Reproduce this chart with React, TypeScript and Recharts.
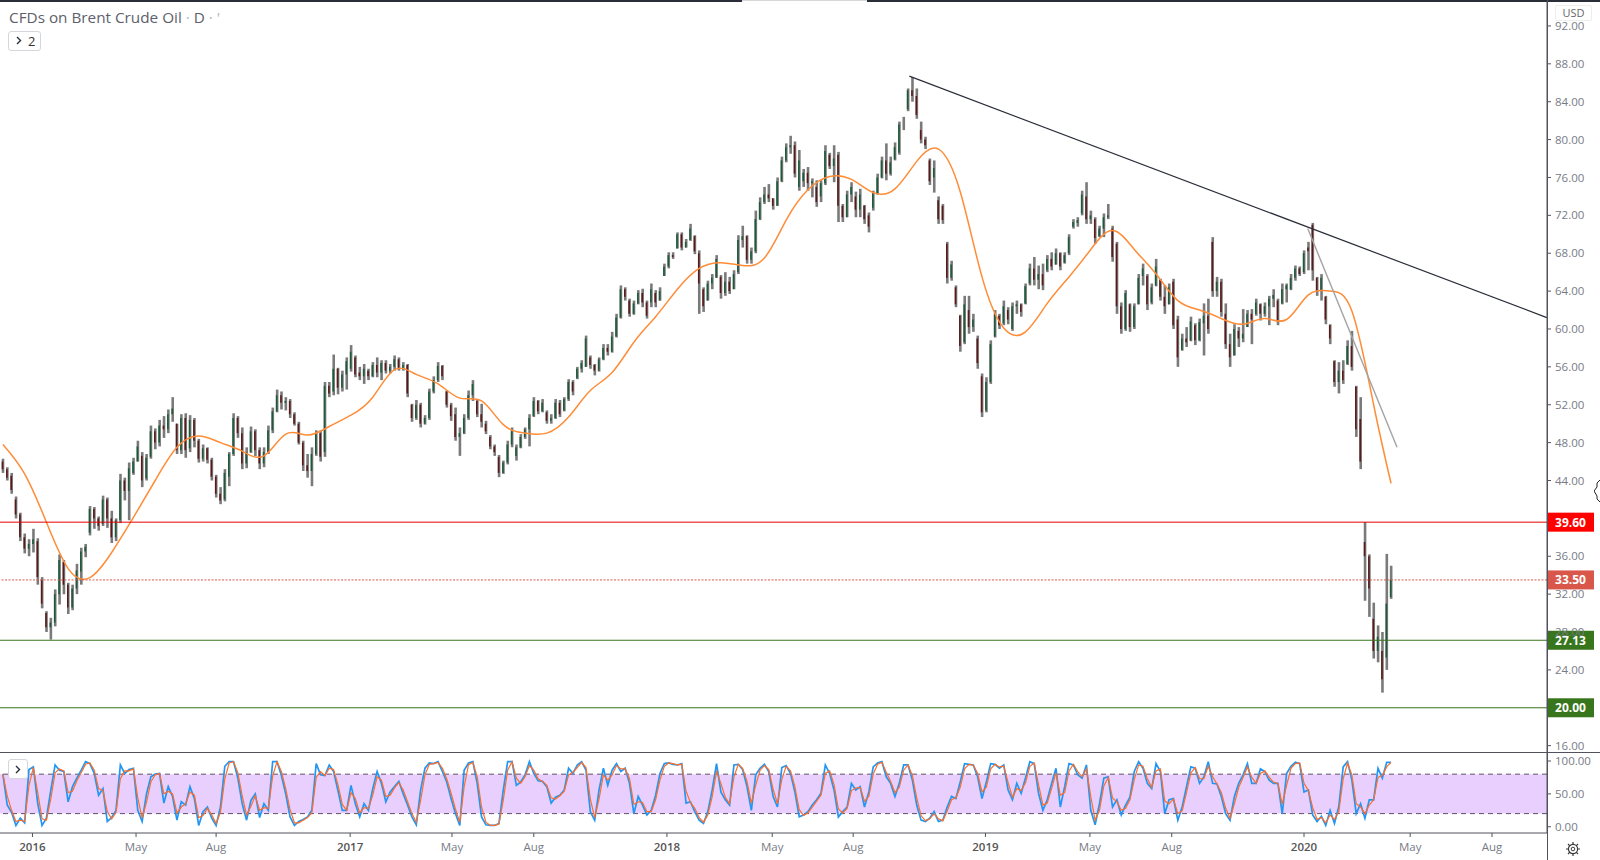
import { Bar, Cell, ComposedChart, Line, ReferenceArea, ReferenceLine, XAxis, YAxis } from "recharts";

// one row per bar, ten bars to a line
const opens = [
  46,45.2,44.5,42,40.4,38,36.8,37.3,37.6,33.5,
  30,28.5,29,32,35.4,33,30.6,32.6,34.4,36.5,
  38.5,41,40,39.4,42,40,38,39.8,44,42.9,
  44.8,46,46.6,44.2,46.5,49.2,48,49.8,49.4,51,
  50,47.2,50.6,47.4,50.4,48.2,46.3,47.4,46.2,44.4,
  42.6,42,44.4,46.8,50.6,49,45.8,47,49.2,47.2,
  45.8,47,49.3,51.3,53,52.2,52.4,51,50,48,
  45.6,45,46.8,49,47,54,53.4,55.8,53.8,55.2,
  55.8,57,55.4,55,55.6,55,56.2,55.4,56.4,55.6,
  56,56.8,55.9,56.2,52,50.6,52,50,50.6,53.4,
  54.6,56.1,53.4,52,51,48.6,49,50.6,53,52.4,
  51,50,48.6,47.6,46.5,44.8,45.9,47.8,46.6,47.5,
  48.6,49.4,50.8,52.4,51.3,51.2,50.3,50.6,52.2,51.4,
  52.6,54.4,54.8,55.8,56,57,56.2,55.6,56.8,58,
  57.6,59.2,61.2,64.2,63,61.6,62.7,63.8,62.8,62.8,
  63.8,63,65.6,66.6,67.8,68.5,70,68.6,69.4,69.8,
  68,64.2,63,64.8,65.4,65.5,63.8,65,64.2,66,
  69.4,69.8,67.3,68.2,71.6,73.4,74.2,73.8,73,75.6,
  77.8,79.2,79.4,75,75.6,76.5,75.4,75,74,75.4,
  78.4,77.2,78.4,73,71.8,74.2,74,72.6,73,72,
  72.8,74.3,76,77.8,76.4,77.9,78.6,81.6,83.2,85.2,
  84.6,81,80,77.8,76,73.6,73,69,65.4,64.4,
  61.4,58.6,62,60.2,59,55,51.4,54.4,59.2,61.4,
  60.6,62,60,62.4,62.6,62.7,64.8,66.4,65.2,65.8,
  66.2,67.4,66.8,68,67,68,70.8,71.2,72.2,74,
  71.6,71.6,69.8,70.6,71.8,70.6,69,62.4,60,62.6,
  60.2,62.6,65.6,65.6,62.8,64.6,65.2,63.4,62.6,65,
  61,57.8,59,58.8,60.4,58.8,60.6,61.4,69.2,64,
  65,61.6,58.4,57.2,59.8,59,60.2,61.6,61.6,62.6,
  61.6,62.4,63.2,63,62.7,64.2,64.2,65.4,66.4,66,
  68.6,71,65.4,64,63.4,60.4,56.6,54.4,55.6,56.3,
  58.2,53.9,50.5,37.5,36,29.4,26,26,25.3,31.7,
];
const highs = [
  46.3,45.4,44.8,42.3,40.6,38.4,37.8,38.9,37.9,33.8,
  30.2,29.5,32.5,36.2,35.6,33.2,33,35.2,36.9,37.3,
  41.3,41.2,40.2,42.4,42.2,40.8,40,44.7,44.3,45.9,
  46.4,48.2,47,46.8,49.8,49.5,50.4,50.8,51.5,52.8,
  50,51,51.1,50.9,50.6,48.4,47.8,47.5,46.4,44.6,
  43.3,45.2,47,51.1,50.8,49.6,47.5,49.7,49.4,47.5,
  47.5,49.8,51.7,53.6,53.4,52.8,52.6,51.2,50.2,48.2,
  46.8,47.5,49.3,49.3,54.4,54.4,57.3,55.9,55.6,57,
  58.3,57.2,56,56.3,55.8,56.5,57,56.7,56.7,56.3,
  57.2,57,56.5,56.3,52.1,52.5,52.2,50.9,53.7,55,
  56.5,56.2,53.5,52.2,51.7,49.6,51,53.5,54.6,52.5,
  52.1,50.3,48.8,47.8,46.7,46.1,48.2,49.6,47.8,48.9,
  49.6,51,52.8,52.5,52.6,51.4,51,52.6,52.5,52.8,
  54.7,54.6,56,56.7,59.3,57.2,56.3,57,58.4,58.4,
  59.7,61.6,64.6,64.4,63.2,63,64.1,64.25,63,64.8,
  64.1,64.4,66.9,68.1,68.1,70.2,70.2,69.5,71.1,69.9,
  68.3,64.4,65.1,65.8,67.8,65.7,66,65.5,66.2,69.9,
  70.9,69.9,68.6,72.5,73.9,75,75.3,73.8,76,78.2,
  79.6,80.4,79.8,78.9,76.9,77.1,75.9,75.7,75.7,79.4,
  78.6,79.4,78.7,73.2,74.6,75.5,74.5,74.8,73.1,72.3,
  74.6,76.4,78.2,79.6,78.2,79.7,81.9,82.4,85.4,86.6,
  85.4,81.9,80.3,78,77.8,74,73.2,69.2,67.2,64.6,
  61.5,63.5,63.5,61.6,59.3,55.3,54.9,58.8,62,61.6,
  63,62.3,62.8,63,62.7,64.8,66.9,67.6,66.7,66.9,
  67.8,68.1,68.5,68.1,68.1,70,71.6,71.8,74.6,75.5,
  72.5,71.8,70.9,72.2,73.2,70.9,69.2,62.8,64.1,62.7,
  62.7,65.8,66.9,65.8,64.8,67.4,65.3,64.6,64.8,65.3,
  61.4,59.5,60.2,61.3,60.6,61.1,62.7,63.2,69.7,65.5,
  65.3,62.7,59.5,60.5,60.2,62.1,62,62.1,63.2,62.7,
  62.8,63.5,64.2,63.2,64.8,64.8,65.8,66.7,66.6,68.3,
  69.2,71.2,65.5,65.8,63.5,60.5,56.7,56.5,56.7,58.8,
  59.8,54,52.8,39.6,36.2,31.1,28.7,28,36.25,35,
];
const lows = [
  44.8,44,42.6,40,37.6,36.3,36,36.4,33,30.5,
  28,27.2,28.6,30.9,32,29.9,30.3,32,33,35.9,
  38.2,38.9,38.7,39.2,39,37.4,37.6,39.5,41.9,39.8,
  44.6,46,43.3,44,46.3,47.3,47.6,48.5,49,50.2,
  46.8,46.8,46.4,47,47.5,45.9,46,45.8,44,42.2,
  41.5,41.8,43.4,46.6,48.5,45.2,45.3,46.9,46.6,45.2,
  45.4,46.8,49,51.2,51.5,51.4,50.6,49.8,47.8,45,
  44.3,43.4,46.6,46,46.5,52.8,53,53.1,53.4,53.6,
  55.5,54.9,54.6,54.2,54.6,54.9,54.9,54.6,55.3,55.3,
  55.6,55.6,55.6,52.8,50.2,50.4,49.6,49.9,50.4,53.2,
  54.4,54.6,51.7,50.3,48.2,46.6,48.9,50.4,52.4,50.7,
  49.6,48.9,47.3,46.6,44.35,44.7,45.7,47.5,46.1,47.4,
  48.4,47.6,50.7,51,51.2,50,50,50.5,50.7,51.3,
  52.4,53,54.7,55.4,56,55.8,55.1,55.5,56.7,57.2,
  57.5,59.1,61.1,63,61.3,61.5,62.6,62.3,61.1,62.3,
  62.3,63,65.6,66.4,67.4,68.5,68.3,68.6,69.3,67.9,
  61.6,61.8,63,64.2,65.4,63.2,63.5,63.7,64.2,65.8,
  68.6,66.9,66.9,68,71.5,73.2,73.4,72.6,73,75.5,
  77.6,78.5,76,74.6,75,74.6,73.9,72.9,73.4,75.2,
  76.9,75.5,71.3,71.3,71.8,73.4,71.8,71.8,71.1,70.2,
  72.5,74.2,75.9,75.7,76.2,77.8,78.4,81,83,84,
  82.2,79.6,79,75.2,74.4,71.1,71.1,64.8,65.1,62.3,
  57.6,58.4,59.5,59.7,55.8,50.7,51.2,54.2,59.1,60,
  60.4,60.5,59.8,61.6,61.3,62.6,64.6,64.6,64.2,64.1,
  66,66.2,66.8,66.2,66.9,67.8,70.6,70.8,72,71.1,
  71.1,69,69.7,69.7,71.6,67.1,61.6,59.5,59.8,59.7,
  60,62.6,64.6,62,62.6,64.5,63,61.6,62.6,60,
  56,57.7,58.1,58.7,58.3,58.7,57.2,59.5,63.4,63.4,
  61.3,57.9,56,57.2,58.1,58.6,60.2,58.4,61.4,60.9,
  61.3,60.4,62.3,60.4,62.6,62.8,64.1,65.1,65.6,65.8,
  66.2,65.1,63.5,63,60.5,58.4,53.9,53.2,54.2,56.2,
  55.6,48.6,45.2,31.3,29.6,25.2,24.8,21.6,24,31.5,
];
const closes = [
  45.2,44.3,43,40.4,38,36.8,37.3,37.8,33.8,31,
  28.5,29,32,35.6,33,30.6,32.6,34.5,36.5,37,
  41,40,39.2,42,40,38,39.8,44,42.9,45.3,
  46,47.6,44,46.4,49.2,48,49.8,49.4,51,51.6,
  47.2,50.6,47.2,50.4,48.2,46.3,47.4,46.2,44.4,42.6,
  41.9,44.8,46.8,50.6,49,45.8,47,49.2,47.2,45.8,
  47,49.3,51.3,53,52.2,52.4,51,50,48,45.6,
  45,46.8,49,46.5,54,53.2,55.8,53.8,55.2,56.6,
  57.6,55.2,55,55.8,55,56.2,55.4,56.4,55.6,56,
  56.8,55.9,56.2,53.2,50.6,52,50,50.6,53.4,54.6,
  56.1,55,52,50.8,48.6,49,50.6,53,54.2,51,
  50.2,49.2,47.6,47,44.8,45.9,47.8,49.2,47.5,48.6,
  49.4,50.6,52.4,51.3,52.2,50.3,50.6,52.2,51,52.6,
  54.4,53.4,55.8,56.4,59,56.2,55.6,56.8,58,57.6,
  59.2,61.2,64.2,63.4,61.6,62.7,63.8,62.8,61.4,64.2,
  62.8,64,66.6,67.8,67.6,70,68.6,69.2,70.6,68.2,
  64.8,62.4,64.8,65.4,67.4,63.8,65,64,65.8,69.4,
  69.8,67.3,68.2,71.6,73.4,74.2,73.8,73,75.6,77.8,
  79.2,79.4,76.4,77.8,76.5,75.4,75.6,73.4,75.4,78.8,
  77.2,78,73,71.8,74.2,75,72.6,74.2,71.6,70.8,
  74.3,76,77.8,76.4,77.6,79.2,81.6,81.6,85.2,84.6,
  82.6,80,79.4,75.6,77,71.6,71.5,65.4,66.8,62.6,
  58.2,62.6,60.2,61,56.4,51.2,54.4,58.4,61.6,60.4,
  62.4,61,62.4,62.6,61.8,64.5,66.4,65.2,65.8,64.6,
  67.4,66.6,68,66.6,67.8,69.7,71.3,71.5,74.2,71.6,
  72,69.6,70.6,71.8,72,67.6,62.4,60,63.8,60.2,
  62.4,65.4,66.4,62.6,64.4,66.6,63.4,62.4,64.4,60.4,
  57,59,58.6,60.8,58.8,60.7,61.4,60,64,65,
  61.8,58.4,57,60,59,59.5,61.6,61,62.8,61.6,
  62.4,63.2,63.6,60.8,64.2,64.6,65.4,66.4,65.8,68,
  68.2,66.2,64,65.4,61,59,54.4,55.6,54.6,58.2,
  56,49.4,46,36,32.6,26,27.5,23,31,33.5,
];

// moving average, read every fifth bar
const maBars = [
  0,5,10,15,20,25,30,35,40,45,50,55,60,65,70,75,80,85,90,95,
  100,105,110,115,120,125,130,135,140,145,150,155,160,165,170,175,180,185,190,195,
  200,205,210,215,220,225,230,235,240,245,250,255,260,265,270,275,280,285,290,295,
  300,305,310,315,319,
];
const maValues = [
  47.8,44.7,39.6,34.7,33.75,36.4,40.1,44,47.5,48.7,
  48,47.1,46.6,48.9,48.8,49.7,50.9,52.8,55.7,55.2,
  54.2,52.7,52.4,49.9,49,49,50.7,53.5,55.4,58.6,
  61.3,64.2,66.4,67,66.7,67.5,71.5,74.7,76.1,75.8,
  74.4,74.8,77.7,79,74.5,65.5,60.1,59.7,62.7,65.5,
  68.4,70.4,68.4,65.8,63,62,61.1,60.5,61.1,61,
  63.6,64,61.9,52,43.7,
];

const stochK = [
  80,33,22,2,13,6,87,91,36,2,
  13,55,94,86,84,38,61,74,86,99,
  96,81,48,58,8,14,25,94,81,87,
  89,25,8,50,76,80,81,36,61,46,
  10,38,33,61,43,2,23,30,13,2,
  30,92,99,99,74,35,10,40,50,14,
  35,25,99,99,78,50,15,2,8,11,
  15,25,96,79,78,94,84,55,25,25,
  63,35,15,35,25,58,84,66,38,53,
  61,69,50,33,15,3,56,89,97,96,
  99,84,68,43,20,2,86,97,99,66,
  15,3,2,2,5,56,99,99,63,68,
  79,99,81,70,69,61,36,45,48,56,
  89,81,94,99,86,23,10,56,89,63,
  86,96,84,89,66,20,46,33,18,25,
  48,81,96,97,95,94,96,36,38,23,
  10,5,23,56,96,53,41,33,94,95,
  87,61,25,79,89,95,84,46,30,90,
  93,81,53,15,18,23,33,41,51,94,
  81,56,15,23,30,66,56,61,30,53,
  91,97,99,76,66,46,66,94,94,71,
  33,10,8,13,23,8,10,30,46,43,
  68,96,95,94,76,43,68,96,95,89,
  94,56,41,66,51,74,99,96,51,25,
  41,66,89,30,61,96,94,79,74,94,
  25,3,35,74,76,30,41,18,33,45,
  84,99,89,66,58,96,84,20,41,43,
  10,30,61,91,89,66,76,99,66,65,
  46,20,10,46,66,79,96,66,66,88,
  84,71,66,66,20,81,92,98,96,53,
  56,18,8,16,2,25,5,31,91,99,
  71,20,35,13,41,41,89,74,98,98,
];
const stochD = [
  80,47,25,8,10,8,63,90,52,12,
  10,42,82,88,85,52,54,70,82,95,
  97,86,58,55,23,12,22,73,85,85,
  88,44,13,37,68,79,81,50,54,50,
  21,30,35,53,48,14,17,28,18,5,
  22,73,97,99,82,47,18,31,47,25,
  29,28,77,99,84,58,26,6,6,10,
  14,21,75,84,78,89,87,64,34,25,
  52,43,21,29,28,48,76,71,46,48,
  59,67,56,38,20,7,40,79,95,96,
  98,89,73,51,27,7,61,94,98,76,
  30,7,2,2,4,41,86,99,74,66,
  76,93,86,73,69,63,44,42,47,54,
  79,83,90,98,90,42,14,42,79,71,
  79,93,88,88,73,34,38,37,23,23,
  41,71,92,97,96,94,95,54,37,28,
  14,7,18,46,84,66,45,35,76,95,
  89,69,36,63,86,93,87,57,35,72,
  92,85,61,26,17,21,30,39,48,81,
  85,64,27,21,28,55,59,60,39,46,
  80,95,98,83,69,52,60,86,94,78,
  44,17,9,12,20,12,9,24,41,44,
  60,88,95,94,81,53,60,88,95,91,
  92,67,45,58,55,67,92,97,64,33,
  36,58,82,48,52,85,95,84,76,88,
  46,10,25,62,75,44,38,25,28,41,
  72,94,92,73,60,85,88,39,35,42,
  20,24,52,82,90,73,73,92,76,65,
  52,28,13,35,60,75,91,75,66,81,
  85,75,68,66,34,63,89,96,97,66,
  55,29,11,14,6,18,11,23,73,97,
  79,35,30,20,33,41,75,78,91,98,
];

const priceTicks = [16, 24, 28, 32, 36, 44, 48, 52, 56, 60, 64, 68, 72, 76, 80, 84, 88, 92];
const stochTicks = [0, 50, 100];
const timeTickDays = [0, 119, 211, 365, 482, 576, 729, 850, 943, 1095, 1215, 1309, 1461, 1583, 1677];
const timeTickLabels = ["2016", "May", "Aug", "2017", "May", "Aug", "2018", "May", "Aug", "2019", "May", "Aug", "2020", "May", "Aug"];

const resistance = 39.6;
const lastPrice = 33.5;
const support = 27.13;
const lowerSupport = 20;

// days counted from 1 Jan 2016
const dayDomain: [number, number] = [-37.3, 1740.2];
const rows = closes.map((c, i) => {
  const m = maBars.indexOf(i);
  return {
    day: -34 + 5 * i,
    wick: [lows[i], highs[i]],
    body: [Math.min(opens[i], c), Math.max(opens[i], c)],
    up: c >= opens[i],
    ma: m >= 0 ? maValues[m] : null,
    k: stochK[i],
    d: stochD[i],
  };
});

const uiFont = '"Open Sans", sans-serif';
const axisColor = "#50535e";
const textColor = "#787b86";

function PriceTag({ viewBox, text, fill }: any) {
  const x = viewBox.x + viewBox.width;
  const y = viewBox.y;
  return (
    <g>
      <rect x={x} y={y - 9.5} width={47} height={19} fill={fill} />
      <text x={x + 23.5} y={y + 4.5} textAnchor="middle" fill="#fff" fontSize={12} fontWeight={700} fontFamily={uiFont}>{text}</text>
    </g>
  );
}

function TimeTick({ x, y, payload, index }: any) {
  const label = timeTickLabels[index];
  const isYear = /\d/.test(label);
  return (
    <text x={x} y={y + 12} textAnchor="middle" fontSize={11.5} fontFamily={uiFont} fontWeight={isYear ? 600 : 400} fill={isYear ? "#555" : textColor} data-day={payload.value}>
      {label}
    </text>
  );
}

function PriceChart() {
  return (
    <ComposedChart width={1600} height={752} data={rows} margin={{ top: 0, right: 0, bottom: 0, left: 0 }}>
      <XAxis dataKey="day" xAxisId="w" type="number" domain={dayDomain} allowDataOverflow hide />
      <XAxis dataKey="day" xAxisId="b" type="number" domain={dayDomain} allowDataOverflow hide />
      <YAxis
        orientation="right"
        width={53}
        domain={[15.33, 94.74]}
        allowDataOverflow
        ticks={priceTicks}
        interval={0}
        stroke={axisColor}
        tickSize={4}
        tickMargin={4}
        tickFormatter={(v: number) => v.toFixed(2)}
        tick={{ fontSize: 11.5, fontFamily: uiFont, fill: textColor }}
      />
      <Bar xAxisId="w" dataKey="wick" barSize={2.6} fill="#7a7a7a" isAnimationActive={false} />
      <Bar xAxisId="b" dataKey="body" barSize={1.6} isAnimationActive={false}>
        {rows.map((r, i) => (
          <Cell key={i} fill={r.up ? "#1d5a3c" : "#5a1a1a"} />
        ))}
      </Bar>
      <Line xAxisId="b" dataKey="ma" type="natural" connectNulls stroke="#ff8c37" strokeWidth={1.5} dot={false} activeDot={false} isAnimationActive={false} />
      <ReferenceLine xAxisId="b" y={resistance} stroke="#e60000" strokeWidth={1} label={<PriceTag text={resistance.toFixed(2)} fill="#ff0000" />} />
      <ReferenceLine xAxisId="b" y={lastPrice} stroke="#d9574a" strokeWidth={1} strokeDasharray="2 1.5" label={<PriceTag text={lastPrice.toFixed(2)} fill="#d9574a" />} />
      <ReferenceLine xAxisId="b" y={support} stroke="#38761d" strokeWidth={1} label={<PriceTag text={support.toFixed(2)} fill="#38761d" />} />
      <ReferenceLine xAxisId="b" y={lowerSupport} stroke="#38761d" strokeWidth={1} label={<PriceTag text={lowerSupport.toFixed(2)} fill="#38761d" />} />
      <ReferenceLine xAxisId="b" segment={[{ x: 1007.5, y: 86.7 }, { x: 1740, y: 61.2 }]} stroke="#2a2e39" strokeWidth={1.2} />
      <ReferenceLine xAxisId="b" segment={[{ x: 1465.3, y: 70.6 }, { x: 1567.9, y: 47.5 }]} stroke="#a3a3a3" strokeWidth={1.4} />
    </ComposedChart>
  );
}

function StochChart() {
  return (
    <ComposedChart width={1600} height={108} data={rows} margin={{ top: 0, right: 0, bottom: 0, left: 0 }}>
      <XAxis
        dataKey="day"
        type="number"
        domain={dayDomain}
        allowDataOverflow
        ticks={timeTickDays}
        interval={0}
        height={27}
        stroke={axisColor}
        tickSize={4}
        tick={<TimeTick />}
      />
      <YAxis
        orientation="right"
        width={53}
        domain={[-9.5, 113.7]}
        allowDataOverflow
        ticks={stochTicks}
        interval={0}
        stroke={axisColor}
        tickSize={4}
        tickMargin={4}
        tickFormatter={(v: number) => v.toFixed(2)}
        tick={{ fontSize: 11.5, fontFamily: uiFont, fill: textColor }}
      />
      <ReferenceArea y1={20} y2={80} fill="#e9cffd" fillOpacity={1} stroke="none" />
      <ReferenceLine y={80} stroke="#5e5068" strokeDasharray="5 4" />
      <ReferenceLine y={20} stroke="#5e5068" strokeDasharray="5 4" />
      <Line dataKey="k" stroke="#2196f3" strokeWidth={1.7} dot={false} activeDot={false} isAnimationActive={false} />
      <Line dataKey="d" stroke="#ff6d2a" strokeWidth={1.2} dot={false} activeDot={false} isAnimationActive={false} />
    </ComposedChart>
  );
}

function Gear() {
  return (
    <svg width="16" height="16" viewBox="0 0 16 16" style={{ position: "absolute", left: 1565, top: 841 }}>
      <circle cx="8" cy="8" r="4.6" fill="none" stroke="#3a3a3a" strokeWidth="1.2" />
      <circle cx="8" cy="8" r="1.8" fill="none" stroke="#3a3a3a" strokeWidth="1" />
      <path d="M8 1v2.4M8 12.6V15M1 8h2.4M12.6 8H15M3 3l1.8 1.8M11.2 11.2L13 13M13 3l-1.8 1.8M4.8 11.2L3 13" stroke="#3a3a3a" strokeWidth="1.2" />
    </svg>
  );
}

function Chevron({ left, top }: { left: number; top: number }) {
  return (
    <svg width="6" height="9" style={{ position: "absolute", left, top }}>
      <path d="M1 1l3.5 3.5L1 8" fill="none" stroke="#2a2e39" strokeWidth="1.4" />
    </svg>
  );
}

export default function App() {
  return (
    <div style={{ position: "fixed", left: 0, top: 0, width: 1600, height: 860, background: "#fff", overflow: "hidden" }}>
      <div style={{ position: "absolute", left: 0, top: 0 }}><PriceChart /></div>
      <div style={{ position: "absolute", left: 0, top: 752 }}><StochChart /></div>
      {/* frame lines */}
      <div style={{ position: "absolute", left: 0, top: 0, width: 742, height: 1.5, background: "#2a2e39" }} />
      <div style={{ position: "absolute", left: 742, top: 0, width: 125, height: 1, background: "#d8d8d8" }} />
      <div style={{ position: "absolute", left: 867, top: 0, width: 733, height: 1.5, background: "#2a2e39" }} />
      <div style={{ position: "absolute", left: 0, top: 752, width: 1600, height: 1, background: axisColor }} />
      <div style={{ position: "absolute", left: 1547, top: 0, width: 1, height: 860, background: axisColor }} />
      {/* title and buttons */}
      <div style={{ position: "absolute", left: 9, top: 7, fontFamily: uiFont, fontSize: 15.3, color: "#5d606b", whiteSpace: "nowrap" }}>
        CFDs on Brent Crude Oil <span style={{ color: "#b5b5b5" }}>·</span> D <span style={{ color: "#b5b5b5" }}>· '</span>
      </div>
      <div style={{ position: "absolute", left: 8, top: 31, width: 33, height: 20, boxSizing: "border-box", border: "1px solid #d4d6dc", borderRadius: 3, background: "#fff", fontFamily: uiFont, fontSize: 13, color: "#333", lineHeight: "18px", paddingLeft: 19 }}>
        2
      </div>
      <Chevron left={16} top={36} />
      <div style={{ position: "absolute", left: 8, top: 759, width: 20, height: 20, boxSizing: "border-box", border: "1px solid #d4d6dc", borderRadius: 3, background: "#fff" }} />
      <Chevron left={15} top={765} />
      <div style={{ position: "absolute", left: 1555, top: 5, width: 37, height: 16, boxSizing: "border-box", border: "1px solid #eeeeee", borderRadius: 2, background: "#fff", fontFamily: uiFont, fontSize: 11, color: "#666", textAlign: "center", lineHeight: "14px" }}>
        USD
      </div>
      <svg width="6" height="24" style={{ position: "absolute", left: 1594, top: 480 }}>
        <path d="M6 0L3 3V7L0 11L3 16V19L6 22" fill="#fff" stroke="#222" strokeWidth="1" />
      </svg>
      <Gear />
    </div>
  );
}
